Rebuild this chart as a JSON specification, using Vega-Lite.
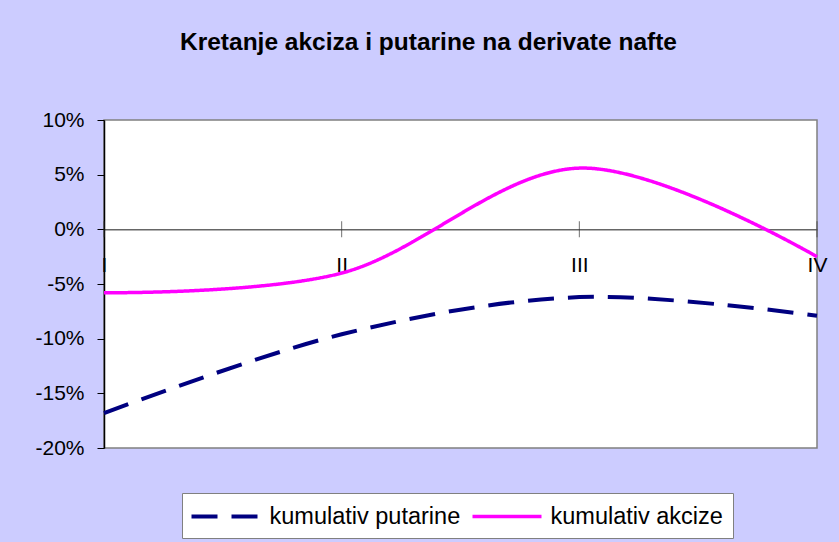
{
  "$schema": "https://vega.github.io/schema/vega-lite/v6.json",
  "width": 713,
  "height": 328,
  "autosize": {"type": "none"},
  "padding": {"left": 104, "top": 120, "right": 22, "bottom": 94},
  "background": "#CCCCFF",
  "title": {
    "text": "Kretanje akciza i putarine na derivate nafte",
    "font": "Liberation Sans",
    "fontSize": 24.5,
    "fontWeight": "bold",
    "color": "black",
    "anchor": "middle",
    "frame": "group",
    "dx": -32,
    "offset": 54
  },
  "config": {
    "view": {"fill": "white", "stroke": "#808080", "strokeWidth": 1.5},
    "font": "Liberation Sans"
  },
  "data": {
    "values": [
      {"q": "I", "series": "kumulativ putarine", "value": -16.8},
      {"q": "II", "series": "kumulativ putarine", "value": -9.6},
      {"q": "III", "series": "kumulativ putarine", "value": -6.2},
      {"q": "IV", "series": "kumulativ putarine", "value": -7.9},
      {"q": "I", "series": "kumulativ akcize", "value": -5.8},
      {"q": "II", "series": "kumulativ akcize", "value": -4.0},
      {"q": "III", "series": "kumulativ akcize", "value": 5.6},
      {"q": "IV", "series": "kumulativ akcize", "value": -2.5}
    ]
  },
  "layer": [
    {
      "mark": {"type": "line", "interpolate": "cardinal"},
      "encoding": {
        "x": {
          "field": "q",
          "type": "ordinal",
          "sort": ["I", "II", "III", "IV"],
          "scale": {"type": "point", "padding": 0},
          "axis": {
            "title": null,
            "orient": "bottom",
            "offset": -218.67,
            "domainColor": "#666666",
            "domainWidth": 1.5,
            "ticks": false,
            "tickSize": 0,
            "labelAngle": 0,
            "labelFontSize": 21,
            "labelColor": "black",
            "labelPadding": 25,
            "labelBound": false,
            "labelOverlap": false,
            "labelFlush": false,
            "grid": false
          }
        },
        "y": {
          "field": "value",
          "type": "quantitative",
          "scale": {"domain": [-20, 10], "nice": false, "zero": false},
          "axis": {
            "title": null,
            "values": [-20, -15, -10, -5, 0, 5, 10],
            "labelExpr": "datum.value + '%'",
            "labelFontSize": 21,
            "labelColor": "black",
            "labelPadding": 13,
            "tickSize": 7,
            "tickColor": "black",
            "domainColor": "black",
            "domainWidth": 1.5,
            "grid": false
          }
        },
        "color": {
          "field": "series",
          "type": "nominal",
          "scale": {
            "domain": ["kumulativ putarine", "kumulativ akcize"],
            "range": ["#000080", "#FF00FF"]
          },
          "legend": {
            "title": null,
            "orient": "none",
            "legendX": 78,
            "legendY": 373,
            "direction": "horizontal",
            "fillColor": "white",
            "strokeColor": "#808080",
            "padding": 10,
            "symbolType": "M-3,0H3",
            "symbolSize": 529,
            "symbolOffset": 20.5,
            "symbolStrokeWidth": 4,
            "labelFontSize": 23.5,
            "labelFont": "Liberation Sans",
            "labelColor": "black",
            "labelOffset": 30,
            "labelLimit": 400,
            "columnPadding": 4
          }
        },
        "strokeDash": {
          "field": "series",
          "type": "nominal",
          "scale": {
            "domain": ["kumulativ putarine", "kumulativ akcize"],
            "range": [[26, 14], [1, 0]]
          },
          "legend": {
            "title": null,
            "orient": "none",
            "legendX": 78,
            "legendY": 373,
            "direction": "horizontal",
            "fillColor": "white",
            "strokeColor": "#808080",
            "padding": 10,
            "symbolType": "M-3,0H3",
            "symbolSize": 529,
            "symbolOffset": 20.5,
            "symbolStrokeWidth": 4,
            "labelFontSize": 23.5,
            "labelFont": "Liberation Sans",
            "labelColor": "black",
            "labelOffset": 30,
            "labelLimit": 400,
            "columnPadding": 4
          }
        },
        "strokeWidth": {
          "field": "series",
          "type": "nominal",
          "scale": {
            "domain": ["kumulativ putarine", "kumulativ akcize"],
            "range": [4, 3.5]
          },
          "legend": null
        }
      }
    },
    {
      "transform": [{"filter": "datum.series === 'kumulativ putarine'"}],
      "mark": {"type": "tick", "orient": "vertical", "size": 16, "thickness": 1, "color": "#333333"},
      "encoding": {
        "x": {"field": "q", "type": "ordinal", "sort": ["I", "II", "III", "IV"]},
        "y": {"datum": 0}
      }
    }
  ]
}
